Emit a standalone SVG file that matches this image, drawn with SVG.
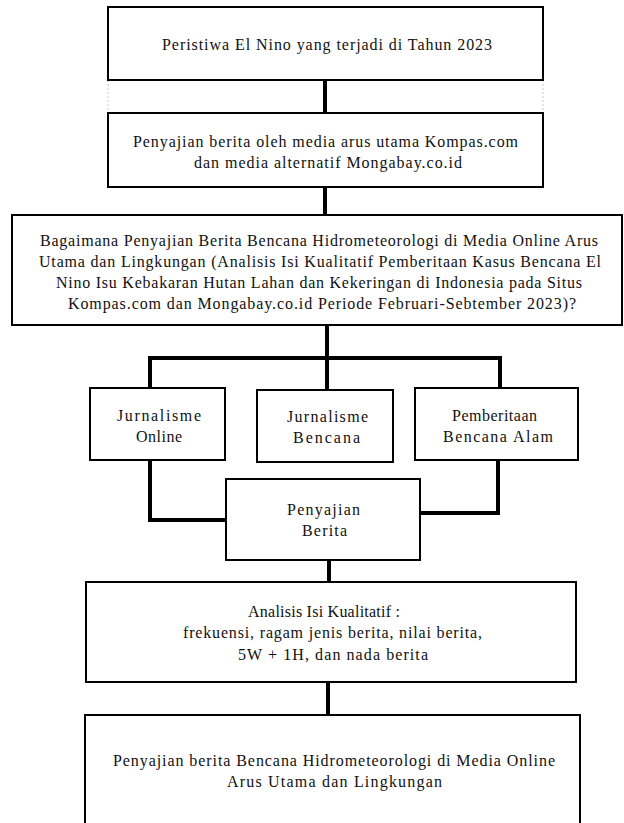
<svg xmlns="http://www.w3.org/2000/svg" width="624" height="823" viewBox="0 0 624 823">
<style>
.box{fill:#fff;stroke:#000;stroke-width:2}
.con{fill:none;stroke:#000;stroke-width:4}
.guide{stroke:#c8c8c8;stroke-width:1;stroke-dasharray:2 2}
text{font-family:"Liberation Serif","Times New Roman",serif;font-size:16px;fill:#111;text-anchor:middle}
</style>
<rect width="624" height="823" fill="#fff"/>
<g id="guides">
<line class="guide" x1="108" y1="80" x2="108" y2="113"/>
<line class="guide" x1="543" y1="80" x2="543" y2="113"/>
</g>
<g id="connectors">
<line class="con" x1="325" y1="80" x2="325" y2="113"/>
<line class="con" x1="325" y1="187" x2="325" y2="215"/>
<path class="con" d="M327,325 V390 M150,388 V358 H500 V388"/>
<path class="con" d="M150,460 V520 H226"/>
<path class="con" d="M420,513 H498 V458"/>
<line class="con" x1="329" y1="560" x2="329" y2="582"/>
<line class="con" x1="328" y1="682" x2="328" y2="715"/>
</g>
<g id="n1">
<rect class="box" x="108" y="7" width="435" height="73"/>
<text x="327" y="50" textLength="330" lengthAdjust="spacing">Peristiwa El Nino yang terjadi di Tahun 2023</text>
</g>
<g id="n2">
<rect class="box" x="108" y="113" width="435" height="74"/>
<text x="325.5" y="147" textLength="385" lengthAdjust="spacing">Penyajian berita oleh media arus utama Kompas.com</text>
<text x="328" y="168" textLength="268" lengthAdjust="spacing">dan media alternatif Mongabay.co.id</text>
</g>
<g id="n3">
<rect class="box" x="12" y="215" width="610" height="110"/>
<text x="319" y="246" textLength="558" lengthAdjust="spacing">Bagaimana Penyajian Berita Bencana Hidrometeorologi di Media Online Arus</text>
<text x="320" y="267" textLength="562" lengthAdjust="spacing">Utama dan Lingkungan (Analisis Isi Kualitatif Pemberitaan Kasus Bencana El</text>
<text x="319" y="288" textLength="526" lengthAdjust="spacing">Nino Isu Kebakaran Hutan Lahan dan Kekeringan di Indonesia pada Situs</text>
<text x="322" y="309" textLength="508" lengthAdjust="spacing">Kompas.com dan Mongabay.co.id Periode Februari-Sebtember 2023)?</text>
</g>
<g id="n4">
<rect class="box" x="90" y="388" width="135" height="72"/>
<text x="159" y="421" textLength="84" lengthAdjust="spacing">Jurnalisme</text>
<text x="159" y="442" textLength="46" lengthAdjust="spacing">Online</text>
</g>
<g id="n5">
<rect class="box" x="257" y="390" width="136" height="72"/>
<text x="327.5" y="422" textLength="81" lengthAdjust="spacing">Jurnalisme</text>
<text x="326.5" y="443" textLength="67" lengthAdjust="spacing">Bencana</text>
</g>
<g id="n6">
<rect class="box" x="415" y="388" width="163" height="72"/>
<text x="494.5" y="421" textLength="85" lengthAdjust="spacing">Pemberitaan</text>
<text x="498" y="442" textLength="110" lengthAdjust="spacing">Bencana Alam</text>
</g>
<g id="n7">
<rect class="box" x="226" y="479" width="194" height="81"/>
<text x="323.5" y="515" textLength="73" lengthAdjust="spacing">Penyajian</text>
<text x="324.5" y="536" textLength="45" lengthAdjust="spacing">Berita</text>
</g>
<g id="n8">
<rect class="box" x="86" y="582" width="490" height="100"/>
<text x="324" y="617" textLength="152" lengthAdjust="spacing">Analisis Isi Kualitatif :</text>
<text x="332.5" y="638" textLength="299" lengthAdjust="spacing">frekuensi, ragam jenis berita, nilai berita,</text>
<text x="333" y="660" textLength="190" lengthAdjust="spacing">5W + 1H, dan nada berita</text>
</g>
<g id="n9">
<rect class="box" x="85" y="715" width="495" height="120"/>
<text x="334" y="766" textLength="442" lengthAdjust="spacing">Penyajian berita Bencana Hidrometeorologi di Media Online</text>
<text x="334.5" y="787" textLength="215" lengthAdjust="spacing">Arus Utama dan Lingkungan</text>
</g>
</svg>
